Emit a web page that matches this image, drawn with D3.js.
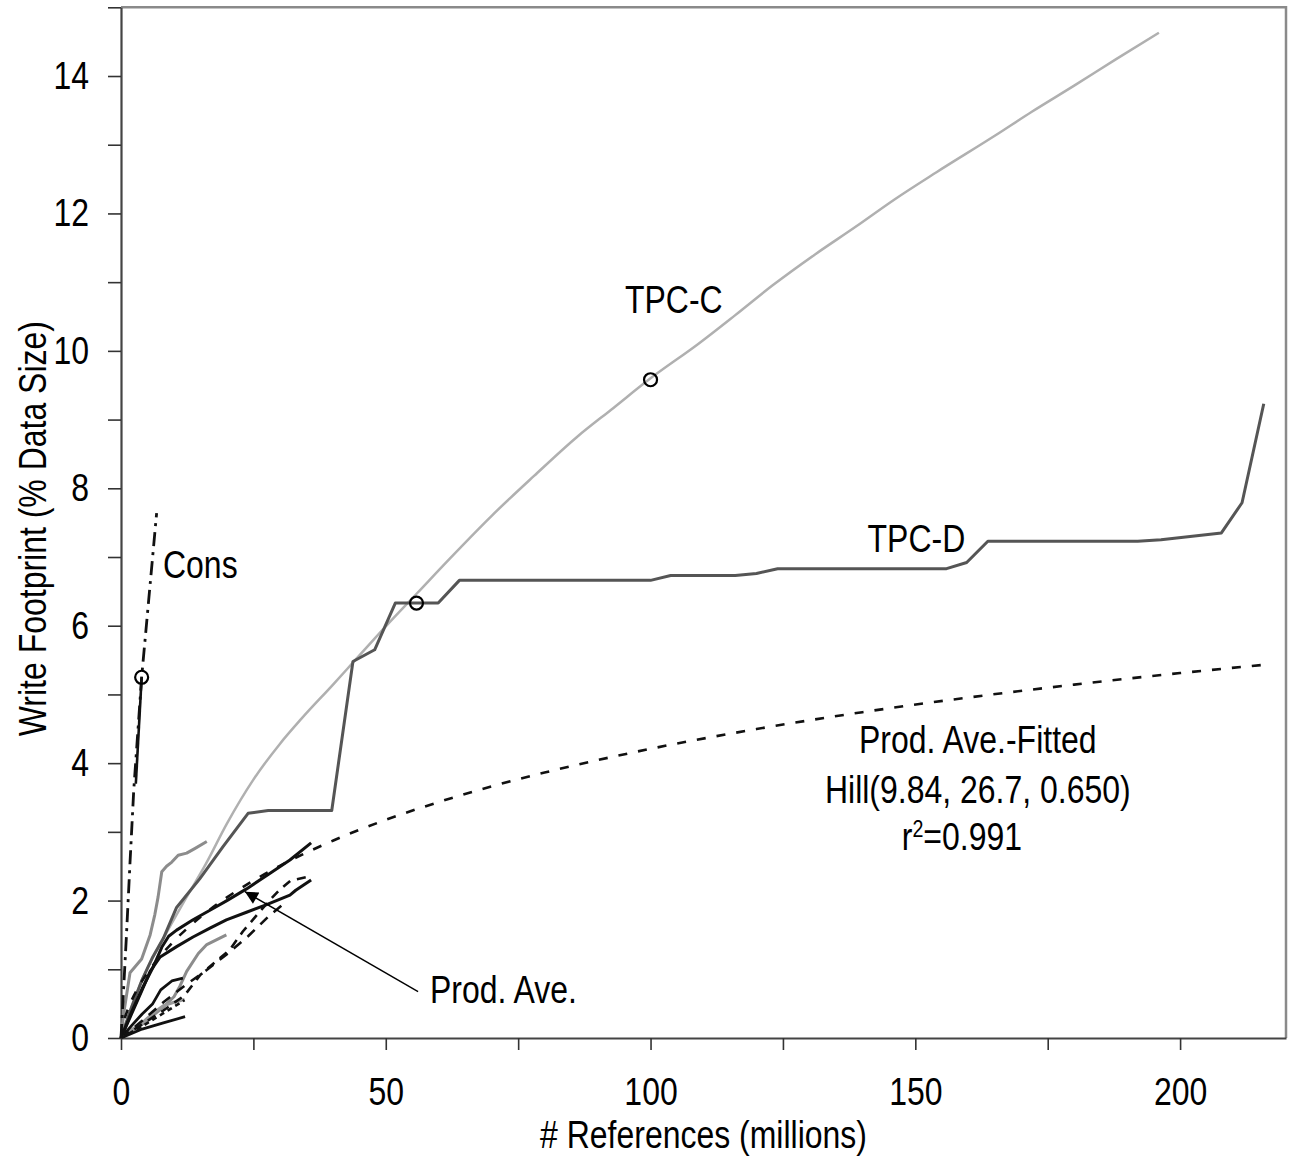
<!DOCTYPE html>
<html><head><meta charset="utf-8">
<script src="https://cdn.jsdelivr.net/npm/d3@7"></script>
<style>body{margin:0;background:#fff}svg{display:block}</style>
</head><body>
<svg id="chart" width="1293" height="1157"></svg>
<script>
// ---------- data ----------
const xTickValues = [0,25,50,75,100,125,150,175,200];
const xTickLabels = [0,50,100,150,200];
const yTickValues = [0,1,2,3,4,5,6,7,8,9,10,11,12,13,14,15];
const yTickLabels = [0,2,4,6,8,10,12,14];

const tpcC = [[0,0],[2,0.45],[4,0.85],[8,1.45],[12,2.0],[16,2.53],[20,3.12],[25,3.76],[30,4.28],[34,4.64],[40,5.14],[44,5.48],[50,5.99],[56,6.48],[62,6.97],[70,7.6],[78,8.18],[86,8.74],[93,9.17],[100,9.6],[109,10.1],[116,10.52],[123,10.95],[131,11.4],[139,11.82],[146,12.2],[154,12.6],[165,13.13],[172,13.48],[180,13.86],[188,14.25],[196,14.63]];
const tpcD = [[0,0],[2,0.45],[4,0.85],[6,1.18],[8,1.45],[10.5,1.9],[14.9,2.32],[19.3,2.79],[24,3.27],[27.8,3.31],[39.8,3.31],[43.8,5.48],[47.9,5.65],[51.8,6.33],[59.9,6.33],[63.9,6.66],[100,6.66],[103.8,6.73],[116,6.73],[120,6.76],[124,6.83],[155.9,6.83],[159.7,6.92],[163.7,7.23],[192,7.23],[196.4,7.25],[207.8,7.35],[211.7,7.79],[215.8,9.23]];
const consDashDot = [[0,0],[1.0,1.45],[1.7,2.55],[2.4,3.6],[3.9,5.25],[6.73,7.64]];
const consSolid = [[2.8,3.7],[3.9,5.25]];
const prodAve = [[0,0],[2,0.38],[4,0.72],[6,1.02],[7.7,1.32],[9,1.48],[10.5,1.57],[13.6,1.72],[16.8,1.86],[20,2.0],[23.7,2.17],[27.8,2.38],[31.9,2.59],[35.9,2.84]];
const prodFitted = [[0,0],[0.5,0.23],[1,0.355],[2,0.546],[4,0.831],[6,1.055],[8,1.244],[10,1.41],[15,1.76],[20,2.046],[25,2.291],[30,2.506],[40,2.871],[50,3.175],[60,3.434],[70,3.662],[80,3.863],[90,4.044],[100,4.209],[120,4.496],[140,4.742],[160,4.955],[180,5.143],[200,5.311],[216,5.432]];
const traceBlack2 = [[0,0],[2,0.35],[4,0.7],[5.5,0.97],[7.4,1.18],[10.5,1.33],[13.6,1.47],[16.8,1.6],[19.9,1.72],[23.7,1.83],[27.5,1.94],[31.9,2.08],[33,2.15],[35.9,2.3]];
const traceBlack3 = [[0,0],[4,0.13],[8,0.22],[12.1,0.31]];
const traceBlack4 = [[0,0],[2,0.18],[4,0.35],[6,0.5],[7.5,0.7],[9.6,0.83],[11.7,0.87]];
const traceGray1 = [[0,0],[0.5,0.35],[1.7,0.95],[3.9,1.15],[5.5,1.5],[6.4,1.8],[7.0,2.05],[7.7,2.42],[8.6,2.5],[9.6,2.56],[10.8,2.66],[12.4,2.69],[14,2.76],[16.2,2.86]];
const traceGray2 = [[0,0],[4,0.2],[8,0.45],[10,0.6],[11.1,0.75],[12.4,0.97],[14.6,1.23],[16.2,1.36],[19.9,1.5]];
const traceGray3 = [[0,0],[2,0.12],[4,0.22],[6,0.36],[8,0.47],[10,0.52],[12,0.56]];
const traceDashA = [[0,0],[4,0.2],[8,0.4],[12,0.62],[15,0.92],[18,1.12],[20.5,1.28],[23,1.55],[26,1.82],[28,2.0],[30,2.16],[32,2.29],[35,2.34]];
const traceDashB = [[0,0],[4,0.25],[8,0.52],[12,0.76],[16,0.98],[20,1.22],[24,1.48],[28,1.78],[31,1.97]];
const traceDashC = [[0,0],[4,0.17],[8,0.36],[12,0.55]];
const markerPoints = [[3.9,5.25],[55.8,6.33],[100,9.58]];

const arrowTail = [56.1,0.674];
const arrowTip = [23.4,2.13];
const labels = [
  {text:'TPC-C', x:104.4, y:10.55, anchor:'middle'},
  {text:'TPC-D', x:150.2, y:7.07, anchor:'middle'},
  {text:'Cons', x:7.93, y:6.70, anchor:'start'},
  {text:'Prod. Ave.', x:58.35, y:0.51, anchor:'start'},
  {text:'Prod. Ave.-Fitted', x:161.8, y:4.15, anchor:'middle'},
  {text:'Hill(9.84, 26.7, 0.650)', x:161.8, y:3.413, anchor:'middle'}
];
const r2Label = {x:158.8, y:2.735, value:'=0.991'};
const xTitle = '# References (millions)';
const yTitle = 'Write Footprint (% Data Size)';

// ---------- setup ----------
const svg = d3.select('#chart');
const FS = 39;
function measure(f){
  const t = svg.append('text').style('font-family',f).style('font-size','100px').text('References Wm');
  const v = t.node().getComputedTextLength(); t.remove(); return v;
}
const narrowOK = Math.abs(measure("'Liberation Sans Narrow', monospace") - measure('monospace')) > 1;
const FONT = narrowOK ? "'Liberation Sans Narrow', 'Liberation Sans', sans-serif" : "'Liberation Sans', Arial, sans-serif";
const SX = narrowOK ? 1 : 0.82;

const x = d3.scaleLinear().domain([0,220]).range([121,1286]);
const y = d3.scaleLinear().domain([0,15]).range([1038,7.3]);

function addText(g, txt, px, py, anchor, rot){
  const gg = g.append('g').attr('transform',`translate(${px},${py})${rot?` rotate(${rot})`:''} scale(${SX},1)`);
  return gg.append('text').attr('text-anchor',anchor).style('font-family',FONT).style('font-size',FS+'px').attr('fill','#000').text(txt);
}

// frame top/right
svg.append('path').attr('d',`M${x(0)},${y(15)}H${x(220)}V${y(0)}`).attr('fill','none').attr('stroke','#8a8a8a').attr('stroke-width',2.5);

// axes
const xAxis = d3.axisBottom(x).tickValues(xTickValues).tickSize(12).tickSizeOuter(0).tickPadding(27)
  .tickFormat(d => xTickLabels.includes(d) ? d : '');
const gx = svg.append('g').attr('transform',`translate(0,${y(0)})`).call(xAxis);
const yAxis = d3.axisLeft(y).tickValues(yTickValues).tickSize(13).tickSizeOuter(0).tickPadding(19)
  .tickFormat(d => yTickLabels.includes(d) ? d : '');
const gy = svg.append('g').attr('transform',`translate(${x(0)},0)`).call(yAxis);
[gx,gy].forEach(g=>{
  g.select('.domain').attr('stroke','#444').attr('stroke-width',2.2);
  g.selectAll('.tick line').attr('stroke','#333').attr('stroke-width',1.6);
  g.selectAll('.tick text').style('font-family',FONT).style('font-size',FS+'px').attr('fill','#000');
});
gx.selectAll('.tick text').attr('transform',`scale(${SX},1)`);
gy.selectAll('.tick text').attr('x',-32/SX).attr('transform',`scale(${SX},1)`);

// lines
const line = d3.line().x(d=>x(d[0])).y(d=>y(d[1]));
const smooth = d3.line().x(d=>x(d[0])).y(d=>y(d[1])).curve(d3.curveMonotoneX);
const plot = svg.append('g').attr('fill','none').attr('stroke-linejoin','round');
function draw(data, color, w, dash, gen){
  const p = plot.append('path').datum(data).attr('d', (gen||line)).attr('stroke',color).attr('stroke-width',w);
  if(dash) p.attr('stroke-dasharray',dash);
  return p;
}
draw(traceGray1,'#8c8c8c',3);
draw(traceGray2,'#8c8c8c',3);
draw(traceGray3,'#999',3);
draw(traceBlack3,'#111',2.8);
draw(traceBlack4,'#111',2.8);
draw(traceDashA,'#111',2.6,'9,7');
draw(traceDashB,'#111',2.6,'10,8');
draw(traceDashC,'#111',2.6,'5,4');
draw(tpcC,'#b0b0b0',2.5,null,smooth);
draw(tpcD,'#555',3);
draw(traceBlack2,'#111',3);
draw(prodAve,'#111',3);
draw(prodFitted,'#111',2.6,'9,11',smooth);
draw(consDashDot,'#111',2.8,'14,6,3,6');
draw(consSolid,'#111',2.6);

// markers
svg.append('g').selectAll('circle').data(markerPoints).join('circle')
  .attr('cx',d=>x(d[0])).attr('cy',d=>y(d[1])).attr('r',6.5)
  .attr('fill','none').attr('stroke','#000').attr('stroke-width',2.2);

// arrow
svg.append('defs').append('marker').attr('id','arr').attr('viewBox','0 0 10 10').attr('refX',10).attr('refY',5)
  .attr('markerWidth',16).attr('markerHeight',13).attr('markerUnits','userSpaceOnUse').attr('orient','auto')
  .append('path').attr('d','M0,0L10,5L0,10Z').attr('fill','#000');
svg.append('line').attr('x1',x(arrowTail[0])).attr('y1',y(arrowTail[1])).attr('x2',x(arrowTip[0])).attr('y2',y(arrowTip[1]))
  .attr('stroke','#000').attr('stroke-width',1.4).attr('marker-end','url(#arr)');

// labels
const lg = svg.append('g');
labels.forEach(l => addText(lg, l.text, x(l.x), y(l.y), l.anchor));
const r2 = addText(lg, '', x(r2Label.x), y(r2Label.y), 'middle');
r2.append('tspan').text('r');
r2.append('tspan').attr('dy',-13).style('font-size','24px').text('2');
r2.append('tspan').attr('dy',13).text(r2Label.value);

// axis titles
addText(svg, xTitle, (x(0)+x(220))/2, 1148, 'middle');
addText(svg, yTitle, 46, (y(0)+y(15))/2 + 6, 'middle', -90);
</script>
</body></html>
